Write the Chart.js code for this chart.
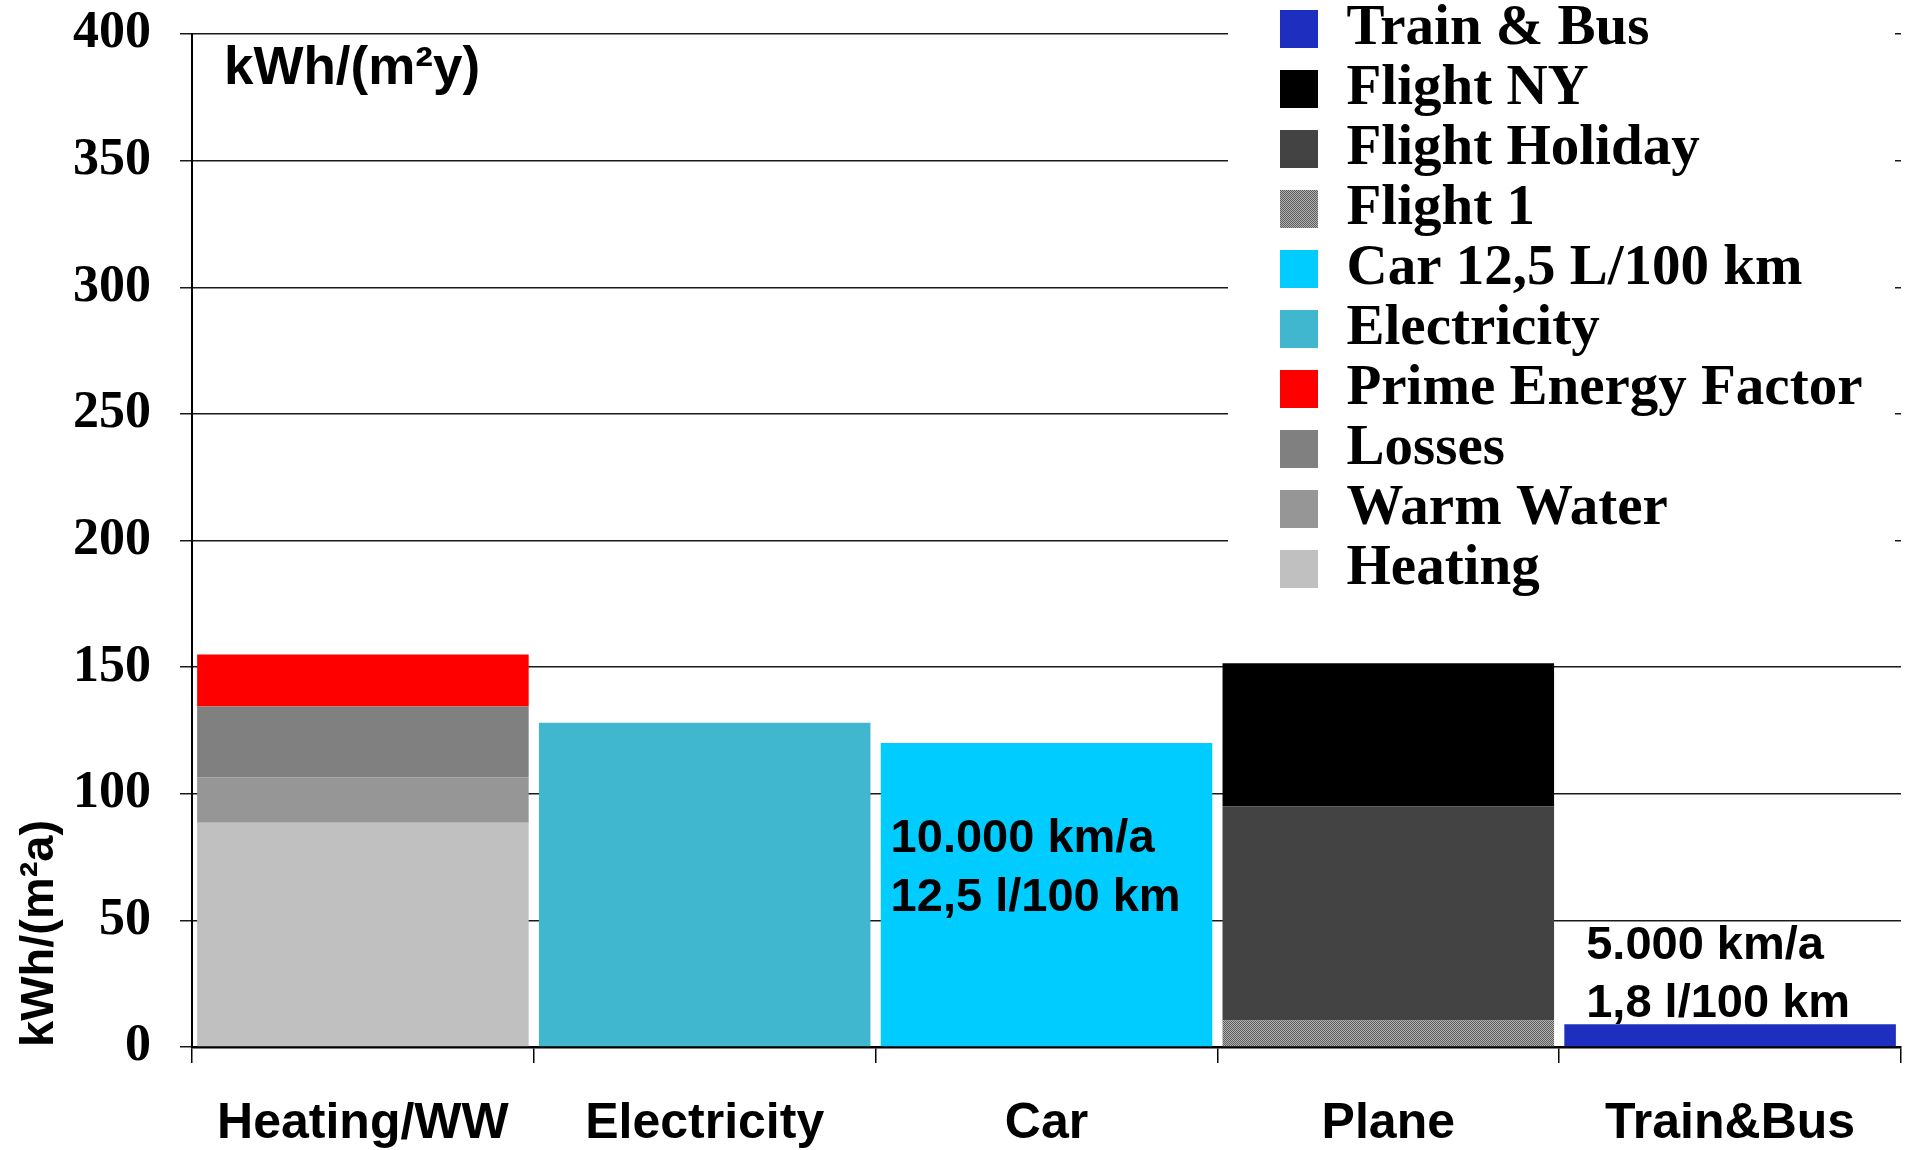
<!DOCTYPE html>
<html>
<head>
<meta charset="utf-8">
<script src="https://cdn.jsdelivr.net/npm/chart.js@4.4.1/dist/chart.umd.min.js"></script>
<style>
  html, body { margin: 0; padding: 0; background: #fff; }
  #wrap { width: 1905px; height: 1150px; position: relative; }
</style>
</head>
<body>
<div id="wrap"><canvas id="energyChart"></canvas></div>
<script>
// categories on the x axis
const categories = ["Heating/WW", "Electricity", "Car", "Plane", "Train&Bus"]

// stacked pieces in kWh/(m²a)
const heating = [88.5, null, null, null, null]
const warmWater = [18, null, null, null, null]
const losses = [28, null, null, null, null]
const primeEnergyFactor = [20.5, null, null, null, null]
const electricity = [null, 128, null, null, null]
const car = [null, null, 120, null, null]
const flight1 = [null, null, null, 10.5, null]
const flightHoliday = [null, null, null, 84.5, null]
const flightNY = [null, null, null, 56.5, null]
const trainBus = [null, null, null, null, 9]

// y axis range
const yMin = 0
const yMax = 400
const yStep = 50

// texts
const axisTitle = "kWh/(m²a)"
const unitLabel = "kWh/(m²y)"
const carNote = ["10.000 km/a", "12,5 l/100 km"]
const trainNote = ["5.000 km/a", "1,8 l/100 km"]

const sans = "'Liberation Sans', Arial, sans-serif"
const serif = "'Liberation Serif', 'Times New Roman', serif"

const canvas = document.getElementById("energyChart")

// fine gray checker used for "Flight 1"
function checkerPattern() {
  const c = document.createElement("canvas")
  c.width = 2
  c.height = 2
  const g = c.getContext("2d")
  g.fillStyle = "#b0b0b0"
  g.fillRect(0, 0, 2, 2)
  g.fillStyle = "#5e5e5e"
  g.fillRect(0, 0, 1, 1)
  g.fillRect(1, 1, 1, 1)
  return canvas.getContext("2d").createPattern(c, "repeat")
}

// legend goes top right inside the plot, on a white box; notes written over bars
const overlay = {
  id: "overlay",
  afterLayout(chart) {
    const lg = chart.legend
    lg.left = chart.chartArea.right - 624
    lg.right = chart.width
    lg.top = -2.5
    lg.bottom = chart.chartArea.bottom
  },
  afterDatasetsDraw(chart) {
    const { ctx, chartArea, scales } = chart
    const x = scales.x
    const y = scales.y
    const catW = x.width / categories.length

    ctx.save()
    ctx.fillStyle = "#fff"
    ctx.fillRect(chartArea.right - 673, 0, 667, 600)
    ctx.restore()
    chart.legend.draw()

    ctx.save()
    ctx.fillStyle = "#000"
    ctx.textAlign = "left"
    ctx.textBaseline = "middle"
    ctx.font = "bold 53px " + sans
    ctx.fillText(unitLabel, chartArea.left + 32, y.getPixelForValue(386))

    ctx.font = "bold 47px " + sans
    const carLeft = x.getPixelForValue(2) - catW / 2 + 15
    ctx.fillText(carNote[0], carLeft, y.getPixelForValue(82))
    ctx.fillText(carNote[1], carLeft, y.getPixelForValue(59))
    const trainLeft = x.getPixelForValue(4) - catW / 2 + 27
    ctx.fillText(trainNote[0], trainLeft, y.getPixelForValue(40))
    ctx.fillText(trainNote[1], trainLeft, y.getPixelForValue(17))
    ctx.restore()
  },
}

new Chart(canvas, {
  type: "bar",
  data: {
    labels: categories,
    datasets: [
      { label: "Heating", data: heating, backgroundColor: "#c0c0c0" },
      { label: "Warm Water", data: warmWater, backgroundColor: "#969696" },
      { label: "Losses", data: losses, backgroundColor: "#808080" },
      { label: "Prime Energy Factor", data: primeEnergyFactor, backgroundColor: "#ff0000" },
      { label: "Electricity", data: electricity, backgroundColor: "#40b6cf" },
      { label: "Car 12,5 L/100 km", data: car, backgroundColor: "#00ccff" },
      { label: "Flight 1", data: flight1, backgroundColor: checkerPattern() },
      { label: "Flight Holiday", data: flightHoliday, backgroundColor: "#434343" },
      { label: "Flight NY", data: flightNY, backgroundColor: "#000000" },
      { label: "Train & Bus", data: trainBus, backgroundColor: "#1e2ebf" },
    ],
  },
  options: {
    responsive: true,
    maintainAspectRatio: false,
    animation: false,
    layout: { padding: { top: 34, right: 4, bottom: 0, left: 0 } },
    datasets: {
      bar: { barPercentage: 0.97, categoryPercentage: 1, borderWidth: 0 },
    },
    plugins: {
      tooltip: { enabled: false },
      legend: {
        position: "chartArea",
        align: "start",
        reverse: true,
        labels: {
          boxWidth: 38,
          boxHeight: 38,
          padding: 3,
          color: "#000",
          font: { family: serif, size: 57, weight: "bold" },
        },
      },
    },
    scales: {
      x: {
        stacked: true,
        grid: { display: true, drawOnChartArea: false, offset: true, tickLength: 16, color: "#000", lineWidth: 1.5 },
        border: { color: "#000", width: 2.5 },
        ticks: {
          color: "#000",
          padding: 31,
          autoSkip: false,
          maxRotation: 0,
          font: { family: sans, size: 50, weight: "bold" },
        },
        afterFit: (s) => {
          s.height = 103
          s.paddingLeft = 0
          s.paddingRight = 0
        },
      },
      y: {
        stacked: true,
        min: yMin,
        max: yMax,
        grid: { color: "#1a1a1a", lineWidth: 1.5, tickLength: 12 },
        border: { color: "#000", width: 2 },
        ticks: {
          stepSize: yStep,
          color: "#000",
          padding: 29,
          font: { family: serif, size: 52, weight: "bold" },
        },
        title: {
          display: true,
          text: axisTitle,
          align: "start",
          color: "#000",
          padding: { top: 12, bottom: 0 },
          font: { family: sans, size: 47, weight: "bold" },
        },
        afterFit: (s) => {
          s.width = 192
          s.paddingTop = 0
          s.paddingBottom = 0
        },
      },
    },
  },
  plugins: [overlay],
})
</script>
</body>
</html>
